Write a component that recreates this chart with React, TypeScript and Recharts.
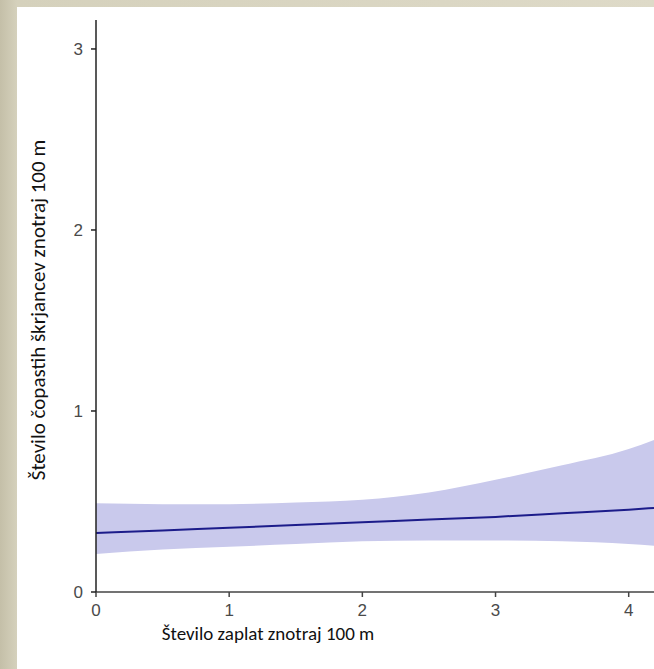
import { Area, ComposedChart, Line, XAxis, YAxis } from 'recharts';

// number of patches within 100 m
const patches = [0, 0.5, 1, 1.5, 2, 2.5, 3, 3.5, 4, 4.19];
// fitted number of crested larks
const fitted = [0.326, 0.34, 0.355, 0.37, 0.385, 0.4, 0.415, 0.435, 0.455, 0.464];
// confidence band
const lower = [0.21, 0.235, 0.25, 0.265, 0.28, 0.285, 0.285, 0.28, 0.265, 0.255];
const upper = [0.49, 0.485, 0.485, 0.495, 0.51, 0.55, 0.62, 0.7, 0.79, 0.84];

const xTicks = [0, 1, 2, 3, 4];
const yTicks = [0, 1, 2, 3];

const data = patches.map((x, i) => ({
  x,
  fit: fitted[i],
  band: [lower[i], upper[i]],
}));

const tickFont = 'Liberation Sans, Arial, sans-serif';
const titleFont = 'Carlito, Calibri, "Open Sans", sans-serif';

const XTick = (p: any) => (
  <text
    x={p.x}
    y={p.y}
    dy='0.72em'
    textAnchor='middle'
    fontSize={17}
    fontFamily={tickFont}
    fill='#4a4a4a'
  >
    {p.payload.value}
  </text>
);

const YTick = (p: any) => (
  <text
    x={p.x}
    y={p.y}
    dy='0.36em'
    textAnchor='end'
    fontSize={17}
    fontFamily={tickFont}
    fill='#4a4a4a'
  >
    {p.payload.value}
  </text>
);

export default function App() {
  return (
    <div
      style={{
        position: 'absolute',
        top: 0,
        left: 0,
        width: 654,
        height: 669,
        background: 'linear-gradient(90deg, #c4bfa8 0px, #d5d1bc 17px, #dedac8 100%)',
        overflow: 'hidden',
      }}
    >
      <div
        style={{
          position: 'absolute',
          left: 17,
          top: 7,
          width: 637,
          height: 662,
          background: '#fff',
        }}
      />
      <div style={{ position: 'absolute', top: 0, left: 0 }}>
        <ComposedChart
          width={654}
          height={669}
          data={data}
          margin={{ top: 20, right: 0, bottom: 0, left: 0 }}
        >
          <Area
            dataKey='band'
            type='monotone'
            stroke='none'
            fill='#c9c9ec'
            fillOpacity={1}
            isAnimationActive={false}
          />
          <Line
            dataKey='fit'
            type='monotone'
            stroke='#1c1c8a'
            strokeWidth={2}
            dot={false}
            isAnimationActive={false}
          />
          <XAxis
            dataKey='x'
            type='number'
            domain={[0, 4.19]}
            ticks={xTicks}
            height={77}
            allowDataOverflow
            stroke='#444'
            strokeWidth={1.5}
            tickSize={5}
            tickMargin={7}
            tick={XTick}
            label={(props: any) => {
              const vb = props.viewBox;
              return (
                <text
                  x={vb.x + 172}
                  y={vb.y + 48}
                  textAnchor='middle'
                  fontSize={19}
                  fontFamily={titleFont}
                  fill='#111'
                >
                  Število zaplat znotraj 100 m
                </text>
              );
            }}
          />
          <YAxis
            type='number'
            domain={[0, 3.16]}
            ticks={yTicks}
            width={96}
            allowDataOverflow
            stroke='#222'
            strokeWidth={1.5}
            tickSize={5}
            tickMargin={8}
            tick={YTick}
            label={(props: any) => {
              const vb = props.viewBox;
              const cy = vb.y + vb.height / 2 + 4;
              return (
                <text
                  x={38}
                  y={cy}
                  transform={`rotate(-90, 38, ${cy})`}
                  textAnchor='middle'
                  dominantBaseline='central'
                  fontSize={21}
                  fontFamily={titleFont}
                  fill='#111'
                >
                  Število čopastih škrjancev znotraj 100 m
                </text>
              );
            }}
          />
        </ComposedChart>
      </div>
    </div>
  );
}
